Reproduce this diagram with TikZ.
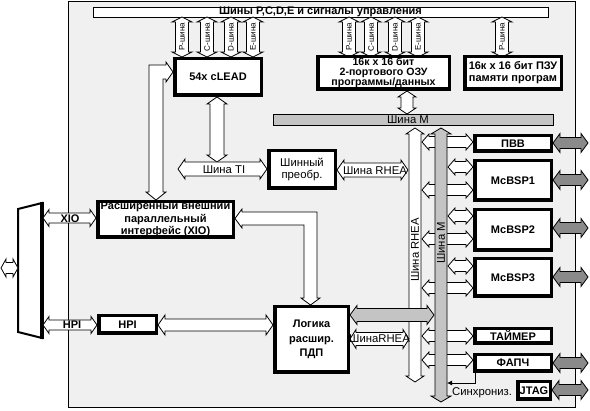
\documentclass[tikz,border=0pt]{standalone}
\usepackage{fontspec}
\setmainfont{Liberation Sans}
\usetikzlibrary{arrows.meta}
\definecolor{framebg}{HTML}{F0F0F0}
\definecolor{busgray}{HTML}{C4C4C4}
\definecolor{extgray}{HTML}{8A8A8A}
\newcommand{\bfnt}{\fontsize{11}{12.5}\selectfont\bfseries}
\newcommand{\nfnt}{\fontsize{11.3}{12.5}\selectfont}
\newcommand{\sfnt}{\fontsize{8}{9}\selectfont}
% horizontal double block arrow: style, x1, x2, y, shaft half, head half, head length
\newcommand{\HBusArrow}[7]{%
 \draw[#1] (#2,#4) -- ({#2+#7},{#4-#6}) -- ({#2+#7},{#4-#5}) -- ({#3-#7},{#4-#5}) -- ({#3-#7},{#4-#6}) -- (#3,#4) -- ({#3-#7},{#4+#6}) -- ({#3-#7},{#4+#5}) -- ({#2+#7},{#4+#5}) -- ({#2+#7},{#4+#6}) -- cycle;}
% vertical double block arrow: style, y1, y2, x, shaft half, head half, head length
\newcommand{\VBusArrow}[7]{%
 \draw[#1] (#4,#2) -- ({#4-#6},{#2+#7}) -- ({#4-#5},{#2+#7}) -- ({#4-#5},{#3-#7}) -- ({#4-#6},{#3-#7}) -- (#4,#3) -- ({#4+#6},{#3-#7}) -- ({#4+#5},{#3-#7}) -- ({#4+#5},{#2+#7}) -- ({#4+#6},{#2+#7}) -- cycle;}
% box node from outer corners: [style]{name}{x1}{y1}{x2}{y2}{text}
\newcommand{\BoxNode}[7][box]{%
 \pgfmathsetmacro\BWd{#5-#3-3.5}\pgfmathsetmacro\BHt{#6-#4-3.5}%
 \pgfmathsetmacro\BXc{(#3+#5)/2}\pgfmathsetmacro\BYc{(#4+#6)/2}%
 \node[#1, minimum width=\BWd pt, minimum height=\BHt pt] (#2) at (\BXc,\BYc) {#7};}
\tikzset{
 box/.style={draw, line width=3.5pt, fill=white, inner sep=0pt, align=center, font=\bfnt},
 boxn/.style={box, font=\nfnt},
 warr/.style={draw, fill=white, line width=0.8pt, line join=miter},
 gbus/.style={draw, fill=busgray, line width=0.8pt},
 darr/.style={draw, fill=extgray, line width=0.8pt},
 lbl/.style={font=\nfnt, inner sep=0pt},
 blbl/.style={font=\bfnt, inner sep=0pt},
 slbl/.style={font=\sfnt, inner sep=0pt, rotate=90}
}
\begin{document}
\begin{tikzpicture}[x=1pt,y=-1pt]
\useasboundingbox (0,0) rectangle (590,411);
% main frame
\draw[fill=framebg, line width=0.8pt] (68.5,1) rectangle (575.5,407.5);
% top bar
\draw[fill=white, line width=0.8pt] (93,7) rectangle (548,17);
\node[blbl] (topbar) at (320.5,12) {Шины P,C,D,E и сигналы управления};
% small bus arrows and labels
\foreach \xx/\tt in {182/P,207/C,231/D,253/E,349/P,371/C,395/D,418/E,502/P}{
 \VBusArrow{warr}{17}{57}{\xx}{6.5}{10}{5}
 \node[slbl] at (\xx,37) {\tt-шина};
}
% top boxes
\BoxNode{clead}{173}{57}{263}{97}{54x cLEAD}
\BoxNode[box, font=\fontsize{10.6}{10}\selectfont\bfseries]{ram}{316}{55}{451}{91}{16к x 16 бит\\2-портового ОЗУ\\программы/данных}
\BoxNode[box, font=\fontsize{11}{12}\selectfont\bfseries]{rom}{463}{55}{563}{91}{16к x 16 бит ПЗУ\\памяти програм}
% RAM <-> bus M
\VBusArrow{warr}{91}{114}{407}{6}{9}{6}
% bus M bar
\draw[gbus] (273,114) rectangle (553,125);
\node[lbl] (busm) at (408,119.5) {Шина M};
% cLEAD <-> bus TI
\VBusArrow{warr}{97}{162}{217}{7}{10}{7}
\HBusArrow{warr}{178}{267}{169}{7}{10}{7}
\node[lbl] (ti) at (224,170) {Шина TI};
% bus converter
\BoxNode[boxn]{conv}{267}{149}{337}{190}{Шинный\\преобр.}
\HBusArrow{warr}{337}{408}{170}{7}{10}{7}
\node[lbl] (rhea1) at (375,171) {Шина RHEA};
% XIO box
\BoxNode{xio}{96}{200}{235}{239}{Расширенный внешний\\параллельный\\интерфейс (XIO)}
% L arrow cLEAD <-> XIO
\draw[warr] (173,72) -- (166,62) -- (166,65) -- (149,65) -- (149,192) -- (146,192) -- (156,200) -- (166,192) -- (163,192) -- (163,79) -- (166,79) -- (166,82) -- cycle;
% L arrow XIO <-> Logic
\draw[warr] (235,218.5) -- (242,209) -- (242,212) -- (317,212) -- (317,298) -- (320,298) -- (310.5,305) -- (301,298) -- (304,298) -- (304,225) -- (242,225) -- (242,228) -- cycle;
% HPI and logic
\BoxNode{hpi}{97}{314}{158}{335}{HPI}
\BoxNode[box, font=\fontsize{11}{14.5}\selectfont\bfseries]{dma}{273}{305}{350}{374}{Логика\\расшир.\\ПДП}
\HBusArrow{warr}{158}{273}{325}{6}{10}{7}
% external interface
\draw[fill=white, line width=2pt, line join=miter] (18,209) -- (42,203) -- (42,338) -- (18,332) -- cycle;
\draw[line width=3.5pt] (42,202) -- (42,339);
\HBusArrow{warr}{1}{18}{268}{5.5}{9}{5}
\HBusArrow{warr}{43}{96}{218}{5}{8.5}{6}
\node[blbl] (xiol) at (70,219) {XIO};
\HBusArrow{warr}{43}{97}{325}{5}{8.5}{6}
\node[blbl] (hpil) at (72,325) {HPI};
% right blocks
\BoxNode{pvv}{473}{134}{553}{153}{ПВВ}
\BoxNode{bsp1}{473}{159}{553}{202}{McBSP1}
\BoxNode{bsp2}{473}{208}{553}{252}{McBSP2}
\BoxNode{bsp3}{473}{257}{553}{298}{McBSP3}
\BoxNode{tmr}{473}{327}{553}{345}{ТАЙМЕР}
\BoxNode{pll}{473}{353}{553}{373}{ФАПЧ}
\BoxNode{jtag}{516}{380}{552}{401}{JTAG}
% external gray arrows
\foreach \yy in {143,180,228,277,363}{\HBusArrow{darr}{553}{588}{\yy}{5.5}{9.5}{7}}
\HBusArrow{darr}{552}{588}{390}{5.5}{9.5}{7}
% RHEA bus
\VBusArrow{warr}{128}{382}{415}{6}{9}{6}
\node[lbl, rotate=90] (rhealbl) at (415,250) {Шина RHEA};
\foreach \yy in {142,190,239,288,336,360}{\HBusArrow{warr}{422}{473}{\yy}{5.5}{8}{7}}
% M bus
\VBusArrow{gbus}{128}{402}{441}{6}{10}{6}
\node[lbl, rotate=90] (mlbl) at (441,243) {Шина M};
\foreach \yy in {167,216,266}{\HBusArrow{warr}{448}{473}{\yy}{5.5}{8}{7}}
% logic <-> M bus (gray) and RHEA
\HBusArrow{gbus}{350}{434}{315}{6.5}{9.5}{7}
\HBusArrow{warr}{350}{409}{339}{6.5}{9.5}{6}
\node[lbl] (rhea2) at (379.5,339) {ШинаRHEA};
% sync
\coordinate (syncend) at (447,383);
\draw[line width=0.8pt, -{Latex[length=5pt,width=5pt]}] ([xshift=2.5pt]pll.south west) |- (syncend);
\node[lbl, anchor=west] (synclbl) at (452,393) {Синхрониз.};
\end{tikzpicture}
\end{document}
